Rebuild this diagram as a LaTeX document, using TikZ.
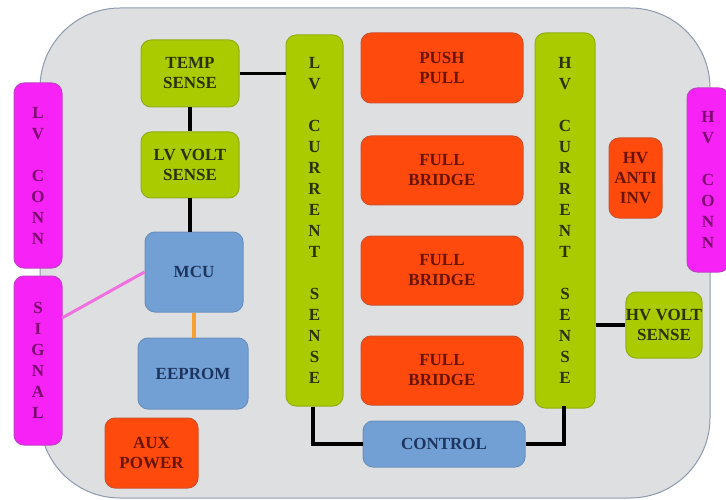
\documentclass[tikz,border=0pt]{standalone}
\usepackage{fontspec}
\setmainfont{Liberation Serif}
\begin{document}
\begin{tikzpicture}[x=1pt,y=-1pt,
  box/.style={rounded corners=10pt, line width=1pt, align=center, inner sep=0pt,
    font=\fontsize{17}{20}\selectfont\bfseries},
  greenbox/.style={box, fill=lgreen, draw=lgreenD, text=lgreenT},
  redbox/.style={box, fill=lred, draw=lredD, text=lredT},
  bluebox/.style={box, fill=lblue, draw=lblueD, text=lblueT},
  pinkbox/.style={box, fill=lpink, draw=lpinkD, text=lpinkT},
  stack/.style={font=\fontsize{17}{21}\selectfont\bfseries},
  wire/.style={line width=3.5pt, black},
]
\definecolor{lgreen}{HTML}{A9CB00}
\definecolor{lgreenD}{HTML}{92AE16}
\definecolor{lgreenT}{HTML}{2A3300}
\definecolor{lred}{HTML}{FF4A0E}
\definecolor{lredD}{HTML}{D0502A}
\definecolor{lredT}{HTML}{6A1400}
\definecolor{lblue}{HTML}{72A0D4}
\definecolor{lblueD}{HTML}{6A90BE}
\definecolor{lblueT}{HTML}{1C3560}
\definecolor{lpink}{HTML}{F722F5}
\definecolor{lpinkD}{HTML}{C040C8}
\definecolor{lpinkT}{HTML}{7A0A6E}
\definecolor{shell}{HTML}{DEDFE1}
\definecolor{shellD}{HTML}{8E9AAE}
\definecolor{romwire}{HTML}{F5A030}
\definecolor{sigwire}{HTML}{F070E0}

\useasboundingbox (0,0) rectangle (726,500);
\clip (0,0) rectangle (726,500);
\fill[white] (0,0) rectangle (726,500);

% housing
\draw[fill=shell, draw=shellD, line width=1pt, rounded corners=80pt]
  (40,8) rectangle (710,498);

% connectors (left side)
\node[pinkbox, minimum width=48pt, minimum height=185pt, stack] (lvconn) at (38,175.5)
  {L\\V\\~\\C\\O\\N\\N};
\node[pinkbox, minimum width=48pt, minimum height=169pt, stack] (signal) at (38,360.5)
  {S\\I\\G\\N\\A\\L};

% low-voltage control column
\node[greenbox, minimum width=98pt, minimum height=67pt] (temp) at (190,73.5) {TEMP\\SENSE};
\node[greenbox, minimum width=98pt, minimum height=66pt] (lvvolt) at (190,165) {LV VOLT\\SENSE};
\node[bluebox, minimum width=98pt, minimum height=80pt] (mcu) at (194,272) {MCU};
\node[bluebox, minimum width=110pt, minimum height=71pt] (eeprom) at (193,373.5) {EEPROM};
\node[redbox, minimum width=93pt, minimum height=70pt] (aux) at (151.5,453) {AUX\\POWER};

% current sense bars
\node[greenbox, minimum width=57pt, minimum height=371pt, stack] (lvcur) at (314.5,220.5)
  {L\\V\\~\\C\\U\\R\\R\\E\\N\\T\\~\\S\\E\\N\\S\\E};
\node[greenbox, minimum width=60pt, minimum height=375pt, stack] (hvcur) at (565,220.5)
  {H\\V\\~\\C\\U\\R\\R\\E\\N\\T\\~\\S\\E\\N\\S\\E};

% power stages
\node[redbox, minimum width=162pt, minimum height=70pt] (push) at (442,68) {PUSH\\PULL};
\node[redbox, minimum width=162pt, minimum height=69pt] (fb1) at (442,170.5) {FULL\\BRIDGE};
\node[redbox, minimum width=162pt, minimum height=69pt] (fb2) at (442,270.5) {FULL\\BRIDGE};
\node[redbox, minimum width=162pt, minimum height=69pt] (fb3) at (442,370.5) {FULL\\BRIDGE};
\node[bluebox, minimum width=162pt, minimum height=46pt] (control) at (444,444) {CONTROL};

% high-voltage side
\node[redbox, minimum width=53pt, minimum height=80pt] (hvanti) at (635.5,178) {HV\\ANTI\\INV};
\node[greenbox, minimum width=76pt, minimum height=66pt] (hvvolt) at (664,325) {HV VOLT\\SENSE};
\node[pinkbox, minimum width=42pt, minimum height=184pt, stack] (hvconn) at (708,180)
  {H\\V\\~\\C\\O\\N\\N};

% wiring
\draw[wire] (temp.east) -- (temp.east -| lvcur.west);
\draw[wire] (temp.south) -- (lvvolt.north);
\draw[wire] (lvvolt.south) -- (lvvolt.south |- mcu.north);
\draw[line width=3.5pt, romwire] (mcu.south) -- (mcu.south |- eeprom.north);
\coordinate (sig) at (62,318);
\draw[line width=3pt, sigwire] (sig) -- (mcu.west);
\coordinate (lvb) at (313,406);
\draw[wire] (lvcur.south -| lvb) |- (control.west);
\coordinate (hvb) at (564,406);
\draw[wire] (control.east) -| (hvb);
\draw[wire] (hvcur.east |- hvvolt.west) -- (hvvolt.west);
\end{tikzpicture}
\end{document}
